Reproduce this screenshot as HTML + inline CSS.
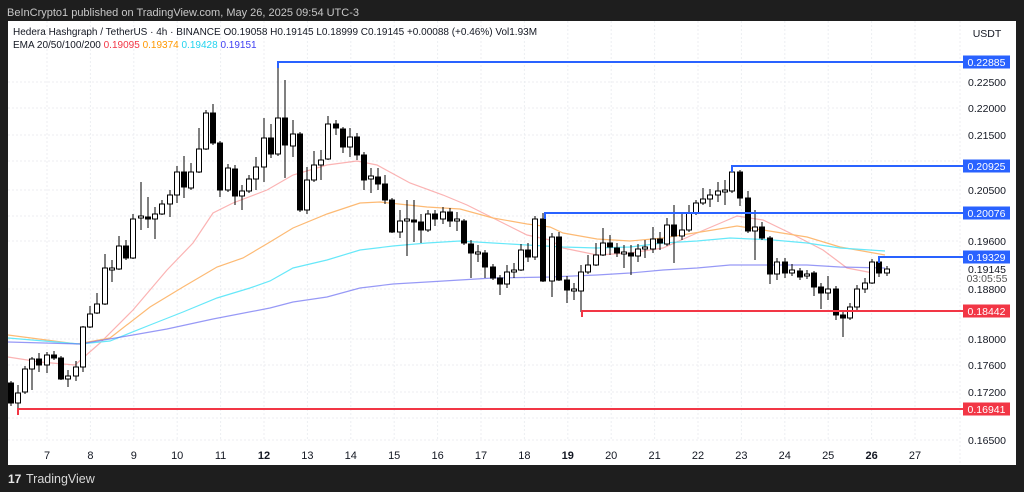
<!DOCTYPE html>
<html><head><meta charset="utf-8"><style>
html,body{margin:0;padding:0;background:#1e1e1e;width:1024px;height:492px;overflow:hidden;font-family:"Liberation Sans",sans-serif}
svg text{font-family:"Liberation Sans",sans-serif}
</style></head><body>
<svg id="s" width="1024" height="492" xmlns="http://www.w3.org/2000/svg">
<rect x="0" y="0" width="1024" height="492" fill="#1e1e1e"/>
<text x="7" y="16" font-size="11" fill="#c8c8c8">BeInCrypto1 published on TradingView.com, May 26, 2025 09:54 UTC-3</text>
<rect x="8" y="21" width="1008" height="444" fill="#ffffff"/>
<g id="grid" stroke="#eceef2" stroke-width="1" stroke-dasharray="2,2"></g>
<line x1="960" y1="21" x2="960" y2="465" stroke="#eceef2" stroke-dasharray="2,2"/>
<g id="ema" fill="none" stroke-width="1.2"></g>
<g id="candles"></g>
<g id="levels"></g>
<g font-size="10" fill="#131722">
<text x="13" y="35">Hedera Hashgraph / TetherUS · 4h · BINANCE  O0.19058  H0.19145  L0.18999  C0.19145  +0.00088 (+0.46%)  Vol1.93M</text>
<text x="13" y="48">EMA 20/50/100/200 <tspan fill="#f23645">0.19095</tspan> <tspan fill="#ff9800">0.19374</tspan> <tspan fill="#22d3ee">0.19428</tspan> <tspan fill="#3f3ff2">0.19151</tspan></text>
</g>
<g font-size="10.5" fill="#131722" text-anchor="middle">
<text x="987" y="37">USDT</text>
<text x="987" y="86">0.22500</text>
<text x="987" y="112">0.22000</text>
<text x="987" y="139">0.21500</text>
<text x="987" y="194">0.20500</text>
<text x="987" y="245">0.19600</text>
<text x="987" y="273">0.19145</text>
<text x="987" y="282" fill="#555">03:05:55</text>
<text x="987" y="293">0.18800</text>
<text x="987" y="343">0.18000</text>
<text x="987" y="369">0.17600</text>
<text x="987" y="396">0.17200</text>
<text x="987" y="444">0.16500</text>
</g>
<g id="tags" font-size="10.5" fill="#fff" text-anchor="middle"></g>
<g font-size="11" fill="#131722" text-anchor="middle" id="days"></g>
<g fill="#e8e8e8">
<text x="26" y="483" font-size="12.5" fill="#d8d8d8">TradingView</text>
<text x="8" y="483" font-size="12" font-weight="bold" fill="#e8e8e8">17</text>
</g>
</svg>
<script>
const NS="http://www.w3.org/2000/svg";
function el(p,t,a){const e=document.createElementNS(NS,t);for(const k in a)e.setAttribute(k,a[k]);p.appendChild(e);return e;}
const g=document.getElementById('grid');
[82,108,135,161,190,216,241,289,339,365,392,418,440].forEach(y=>el(g,'line',{x1:8,x2:960,y1:y,y2:y}));
const days=[7,8,9,10,11,12,13,14,15,16,17,18,19,20,21,22,23,24,25,26,27];
const dg=document.getElementById('days');
days.forEach((d,i)=>{const x=47+i*43.4;el(g,'line',{x1:x,x2:x,y1:21,y2:440});
 const t=el(dg,'text',{x:x,y:459});t.textContent=d;if(d==12||d==19||d==26)t.setAttribute('font-weight','bold');});
const C=[[11,383,403,1,381,406],[18,393,403,0,385,409],[25,369,392,0,366,394],[32,359,369,0,357,390],[39,359,365,1,353,372],[47,355,365,0,352,373],[54,355,358,1,351,360],[61,358,379,1,356,380],[68,376,379,0,370,387],[76,367,376,0,361,381],[83,327,367,0,326,372],[90,314,327,0,306,328],[97,304,313,0,293,314],[105,268,304,0,254,305],[112,268,270,0,260,282],[119,246,269,0,236,270],[126,246,258,1,240,260],[133,219,258,0,214,259],[141,216,218,0,182,230],[148,217,219,1,197,228],[155,214,219,0,207,239],[162,204,214,0,200,215],[170,195,204,0,190,217],[177,172,195,0,166,203],[184,172,187,1,156,198],[191,172,188,0,163,190],[199,149,172,0,128,173],[206,113,149,0,110,150],[213,113,143,1,104,145],[220,143,190,1,141,197],[228,168,190,0,164,192],[235,169,196,1,165,205],[242,191,196,0,185,210],[249,179,191,0,175,193],[256,167,179,0,157,190],[264,138,167,0,118,182],[271,138,154,1,124,158],[278,118,154,0,62,156],[285,118,145,1,80,178],[293,134,146,0,120,157],[300,134,210,1,132,212],[307,180,210,0,167,214],[314,165,180,0,151,182],[321,160,165,0,150,180],[328,124,159,0,116,160],[336,124,128,1,120,135],[343,129,147,1,127,153],[350,137,147,0,128,157],[357,137,155,1,133,160],[364,155,180,1,152,190],[371,176,179,0,168,193],[378,177,184,1,168,190],[385,184,200,1,175,204],[392,200,232,1,198,233],[400,221,232,0,210,238],[407,219,221,0,200,256],[414,220,222,1,200,242],[421,222,230,1,214,243],[428,214,230,0,210,232],[435,214,219,1,210,226],[443,212,219,0,207,224],[450,212,221,1,208,227],[457,219,221,0,212,231],[464,221,243,1,219,245],[471,244,253,1,240,278],[478,252,254,0,245,262],[485,253,267,1,250,278],[493,267,278,1,264,280],[500,278,284,1,275,295],[507,272,284,0,265,288],[514,270,272,0,263,278],[521,250,270,0,244,271],[528,250,257,1,243,262],[535,219,257,0,216,260],[543,219,281,1,213,282],[552,237,281,0,233,297],[559,237,280,1,232,281],[567,280,290,1,276,303],[574,289,291,0,283,300],[581,272,291,0,265,312],[588,265,272,0,255,274],[596,255,265,0,243,266],[603,243,255,0,228,256],[610,243,247,1,235,255],[617,248,253,1,243,257],[624,252,254,0,245,268],[631,253,256,1,245,275],[638,249,256,0,244,262],[645,247,249,0,240,258],[653,239,249,0,227,253],[660,239,243,1,232,250],[667,225,244,0,218,246],[674,225,236,1,205,263],[682,230,236,0,213,240],[689,213,230,0,205,232],[696,203,213,0,200,215],[703,199,203,0,188,205],[710,195,199,0,189,207],[718,191,195,0,182,202],[725,190,192,0,180,205],[732,172,191,0,166,193],[740,172,198,1,170,206],[748,198,231,1,191,233],[755,227,231,0,210,260],[762,227,238,1,222,240],[770,238,274,1,236,284],[777,262,274,0,258,280],[785,262,273,1,258,278],[792,270,273,0,264,276],[800,271,277,1,268,280],[807,274,276,0,270,279],[814,273,287,1,271,296],[821,287,293,1,283,309],[828,289,293,0,276,300],[836,289,315,1,286,320],[843,315,318,1,312,337],[850,307,318,0,303,320],[857,289,307,0,285,311],[865,283,289,0,278,293],[872,262,283,0,259,284],[879,262,273,1,257,277],[887,269,273,0,266,276]];
const E={ "#f8717188":[[8,357],[40,362],[75,365],[100,343],[133,310],[167,270],[193,243],[213,213],[233,203],[267,190],[293,175],[327,165],[357,161],[377,165],[410,183],[443,195],[467,205],[493,218],[527,235],[550,240],[563,248],[597,255],[630,253],[663,248],[697,233],[723,222],[737,216],[763,220],[790,233],[823,250],[847,268],[873,273]],
"#fdba74":[[8,335],[77,344],[110,338],[150,307],[183,287],[217,267],[243,258],[270,242],[293,228],[327,214],[360,203],[380,202],[427,207],[460,209],[493,218],[527,224],[550,227],[563,233],[597,239],[630,241],[663,238],[713,230],[737,226],[763,230],[807,237],[840,247],[885,255]],
"#67e8f9":[[8,338],[80,344],[110,341],[150,325],[183,312],[217,298],[250,288],[270,281],[293,268],[327,260],[360,250],[393,246],[427,243],[460,241],[493,243],[527,245],[563,247],[597,248],[630,247],[663,243],[697,241],[730,238],[773,240],[807,243],[840,248],[885,251]],
"#6366f1aa":[[8,342],[80,344],[133,335],[167,329],[213,319],[270,308],[293,302],[327,297],[360,288],[393,284],[427,282],[460,280],[493,278],[550,277],[597,275],[630,273],[663,270],[697,268],[730,265],[807,265],[840,267],[885,268]]};
const eg=document.getElementById('ema');
for(const c in E)el(eg,'polyline',{points:E[c].map(p=>p.join(',')).join(' '),stroke:c});
const cg=document.getElementById('candles');
C.forEach(([x,a,b,bear,h,l])=>{el(cg,'line',{x1:x,x2:x,y1:h,y2:l,stroke:'#000','stroke-width':1});
 el(cg,'rect',{x:x-2.5,y:a,width:5,height:Math.max(b-a,1),fill:bear?'#000':'#fff',stroke:'#000','stroke-width':1});});
const lg=document.getElementById('levels'),tg=document.getElementById('tags');
[[62,278,'#2962ff','0.22885'],[166,732,'#2962ff','0.20925'],[213,545,'#2962ff','0.20076'],[257,879,'#2962ff','0.19329'],[311,582,'#f23645','0.18442'],[409,18,'#f23645','0.16941']].forEach(([y,x,c,t])=>{
 el(lg,'polyline',{points:`${x},${y+6} ${x},${y} 963,${y}`,stroke:c,'stroke-width':2,fill:'none'});
 el(tg,'rect',{x:963,y:y-6.5,width:47,height:13,fill:c});
 const e=el(tg,'text',{x:986.5,y:y+4});e.textContent=t;});
</script>
</body></html>
